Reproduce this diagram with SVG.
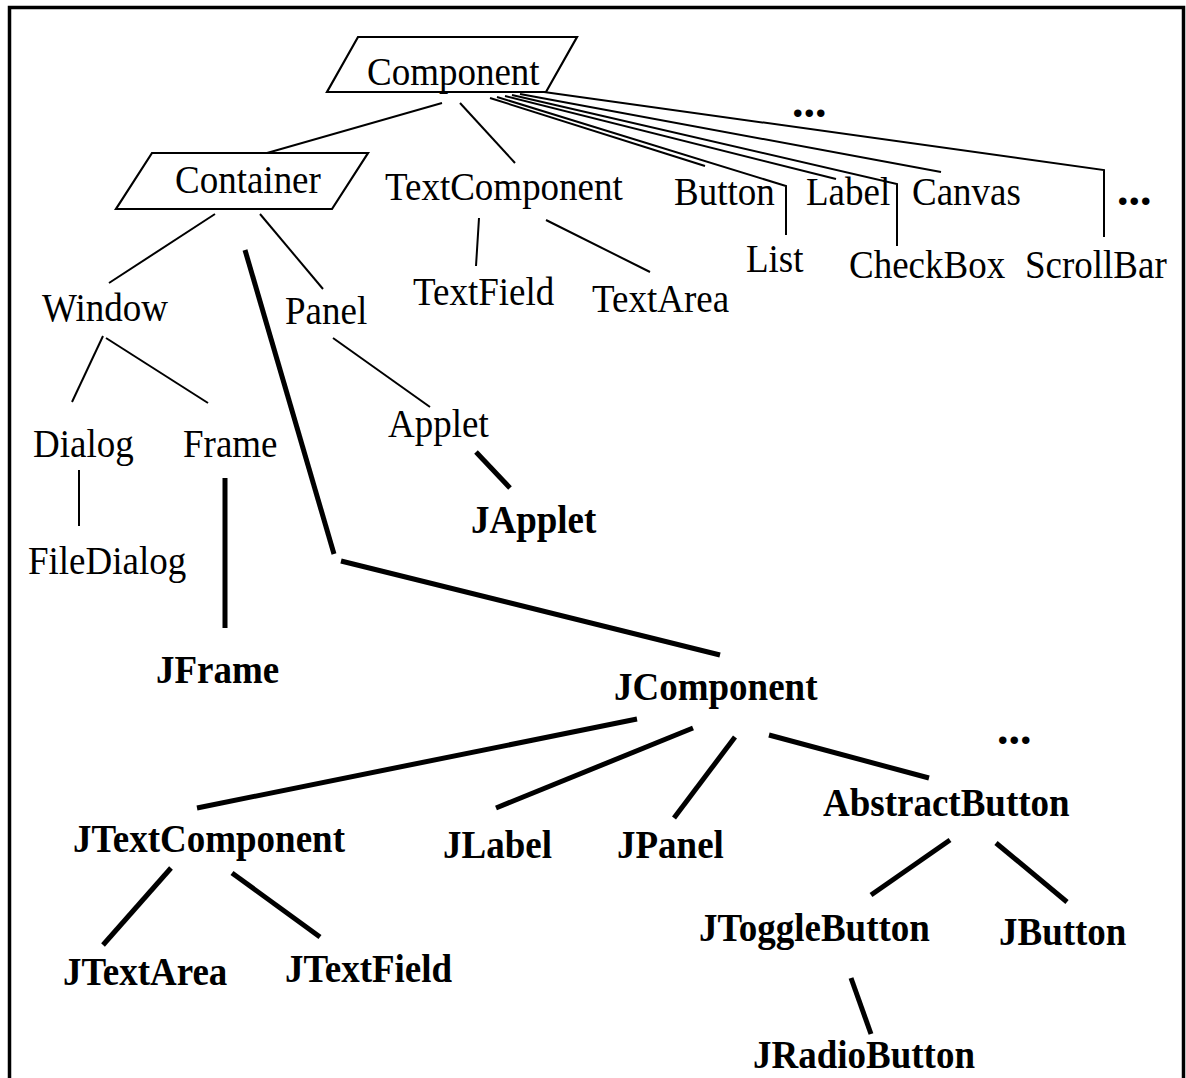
<svg xmlns="http://www.w3.org/2000/svg" width="1186" height="1078" viewBox="0 0 1186 1078">
<style>
.t{font-family:"Liberation Serif","Times New Roman",serif;font-size:37px;fill:#000}
.b{font-family:"Liberation Serif","Times New Roman",serif;font-size:37px;font-weight:bold;fill:#000}
.d{font-family:"Liberation Serif","Times New Roman",serif;font-size:46px;font-weight:bold;fill:#000}
.thin{stroke:#000;stroke-width:2;fill:none}
.thick{stroke:#000;stroke-width:5;fill:none}
.box{stroke:#000;stroke-width:2.2;fill:#fff}
</style>
<rect x="0" y="0" width="1186" height="1078" fill="#fff"/>
<rect x="9.5" y="7.5" width="1174" height="1100" fill="none" stroke="#000" stroke-width="3.5"/>
<g id="connectors">
<line class="thin" x1="442" y1="103" x2="267" y2="153"/>
<line class="thin" x1="460" y1="103" x2="515" y2="163"/>
<line class="thin" x1="490" y1="98" x2="705" y2="166"/>
<polyline class="thin" points="497,97 786,186 786,235"/>
<line class="thin" x1="505" y1="96" x2="836" y2="179"/>
<polyline class="thin" points="512,95 897,184 897,246"/>
<line class="thin" x1="520" y1="94" x2="941" y2="172"/>
<polyline class="thin" points="544,92 1104,170 1104,237"/>
<line class="thin" x1="479" y1="218" x2="476" y2="266"/>
<line class="thin" x1="546" y1="220" x2="650" y2="272"/>
<line class="thin" x1="215" y1="214" x2="109" y2="283"/>
<line class="thin" x1="260" y1="214" x2="323" y2="289"/>
<line class="thick" x1="245" y1="250" x2="334" y2="554"/>
<line class="thick" x1="341" y1="561" x2="720" y2="655"/>
<line class="thin" x1="103" y1="336" x2="72" y2="402"/>
<line class="thin" x1="106" y1="338" x2="208" y2="403"/>
<line class="thin" x1="333" y1="338" x2="430" y2="407"/>
<line class="thin" x1="79" y1="470" x2="79" y2="526"/>
<line class="thick" x1="225" y1="478" x2="225" y2="628"/>
<line class="thick" x1="476" y1="452" x2="510" y2="488"/>
<line class="thick" x1="637" y1="719" x2="197" y2="808"/>
<line class="thick" x1="693" y1="728" x2="496" y2="808"/>
<line class="thick" x1="735" y1="737" x2="674" y2="818"/>
<line class="thick" x1="769" y1="735" x2="929" y2="778"/>
<line class="thick" x1="950" y1="840" x2="871" y2="895"/>
<line class="thick" x1="996" y1="843" x2="1067" y2="902"/>
<line class="thick" x1="851" y1="978" x2="871" y2="1034"/>
<line class="thick" x1="171" y1="868" x2="103" y2="945"/>
<line class="thick" x1="232" y1="873" x2="320" y2="937"/>
</g>
<g id="Component"><polygon class="box" points="358,37 577,37 546,92 327,92"/><text class="t" transform="translate(367,85) scale(1,1.09)">Component</text></g>
<g id="Container"><polygon class="box" points="152,153 368,153 332,209 116,209"/><text class="t" transform="translate(175,193) scale(1,1.09)">Container</text></g>
<g id="TextComponent"><text class="t" transform="translate(385,200) scale(1,1.09)">TextComponent</text></g>
<g id="Button"><text class="t" transform="translate(674,205) scale(1,1.09)">Button</text></g>
<g id="Label"><text class="t" transform="translate(806,205) scale(1,1.09)">Label</text></g>
<g id="Canvas"><text class="t" transform="translate(912,205) scale(1,1.09)">Canvas</text></g>
<g id="List"><text class="t" transform="translate(746,272) scale(1,1.09)">List</text></g>
<g id="CheckBox"><text class="t" transform="translate(849,278) scale(1,1.09)">CheckBox</text></g>
<g id="ScrollBar"><text class="t" transform="translate(1025,278) scale(1,1.09)">ScrollBar</text></g>
<g id="TextField"><text class="t" transform="translate(413,305) scale(1,1.09)">TextField</text></g>
<g id="TextArea"><text class="t" transform="translate(592,312) scale(1,1.09)">TextArea</text></g>
<g id="dots1"><text class="d" x="792" y="117">...</text></g>
<g id="dots2"><text class="d" x="1117" y="205">...</text></g>
<g id="Window"><text class="t" transform="translate(42,321) scale(1,1.09)">Window</text></g>
<g id="Panel"><text class="t" transform="translate(285,324) scale(1,1.09)">Panel</text></g>
<g id="Dialog"><text class="t" transform="translate(33,457) scale(1,1.09)">Dialog</text></g>
<g id="Frame"><text class="t" transform="translate(183,457) scale(1,1.09)">Frame</text></g>
<g id="FileDialog"><text class="t" transform="translate(28,574) scale(1,1.09)">FileDialog</text></g>
<g id="Applet"><text class="t" transform="translate(388,437) scale(1,1.09)">Applet</text></g>
<g id="JFrame"><text class="b" transform="translate(156,683) scale(1,1.09)">JFrame</text></g>
<g id="JApplet"><text class="b" transform="translate(471,533) scale(1,1.09)">JApplet</text></g>
<g id="JComponent"><text class="b" transform="translate(614,700) scale(1,1.09)">JComponent</text></g>
<g id="dots3"><text class="d" x="997" y="744">...</text></g>
<g id="JTextComponent"><text class="b" transform="translate(73,852) scale(1,1.09)">JTextComponent</text></g>
<g id="JLabel"><text class="b" transform="translate(443,858) scale(1,1.09)">JLabel</text></g>
<g id="JPanel"><text class="b" transform="translate(617,858) scale(1,1.09)">JPanel</text></g>
<g id="AbstractButton"><text class="b" transform="translate(823,816) scale(1,1.09)">AbstractButton</text></g>
<g id="JToggleButton"><text class="b" transform="translate(699,941) scale(1,1.09)">JToggleButton</text></g>
<g id="JButton"><text class="b" transform="translate(999,945) scale(1,1.09)">JButton</text></g>
<g id="JRadioButton"><text class="b" transform="translate(753,1068) scale(1,1.09)">JRadioButton</text></g>
<g id="JTextArea"><text class="b" transform="translate(63,985) scale(1,1.09)">JTextArea</text></g>
<g id="JTextField"><text class="b" transform="translate(285,982) scale(1,1.09)">JTextField</text></g>
</svg>
